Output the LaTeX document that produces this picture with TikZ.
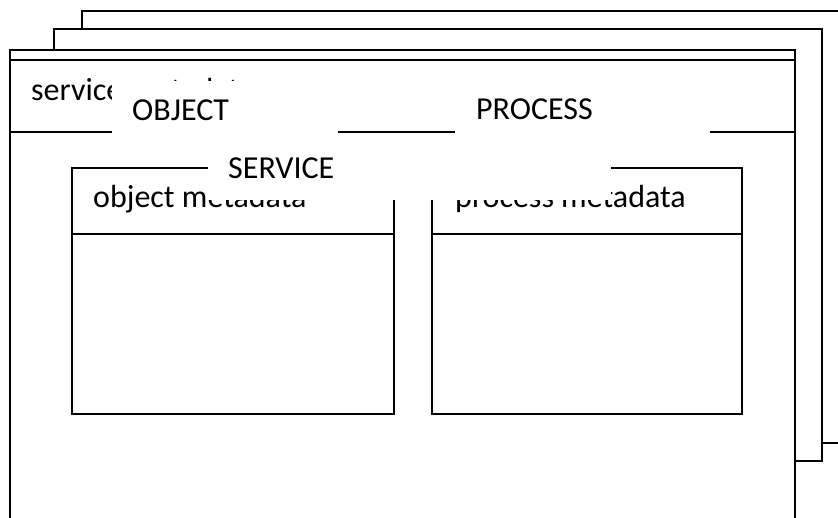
\documentclass[tikz,border=0pt]{standalone}
\usepackage{fontspec}
\setmainfont{Carlito}
\begin{document}
\begin{tikzpicture}[x=1pt,y=-1pt,
  frame/.style={draw=black,line width=1.8pt,fill=white,line join=miter},
  rule/.style={draw=black,line width=1.8pt},
  txt/.style={anchor=base west,inner sep=0pt,font=\fontsize{32}{38}\selectfont},
  mask/.style={fill=white}]
\useasboundingbox (0,0) rectangle (838,517);
\fill[white] (0,0) rectangle (838,517);
\clip (0,0) rectangle (838,517);

% stacked service instances (back to front)
\draw[frame] (82,11) rectangle (860,443);
\draw[frame] (54,29) rectangle (822,461);
\draw[frame] (10,50) rectangle (795,540);
\draw[rule] (10,60) -- (795,60);
\draw[rule] (10,132) -- (795,132);
\node[txt] (svcmeta) at (31,100) {service metadata};

% object and process compartments
\draw[frame] (72,168) rectangle (394,414);
\draw[rule] (72,234) -- (394,234);
\node[txt] (objmeta) at (93,207) {object metadata};

\draw[frame] (432,168) rectangle (742,414);
\draw[rule] (432,234) -- (742,234);
\node[txt] (procmeta) at (455,207) {process metadata};

% overlaid labels on white plates
\fill[mask] (112,81) rectangle (338,141);
\node[txt] (objlbl) at (132,120) {OBJECT};

\fill[mask] (455,80) rectangle (710,140);
\node[txt] (proclbl) at (476,119) {PROCESS};

\fill[mask] (208,140) rectangle (611,200);
\node[txt] (svclbl) at (228,178) {SERVICE};
\end{tikzpicture}
\end{document}
